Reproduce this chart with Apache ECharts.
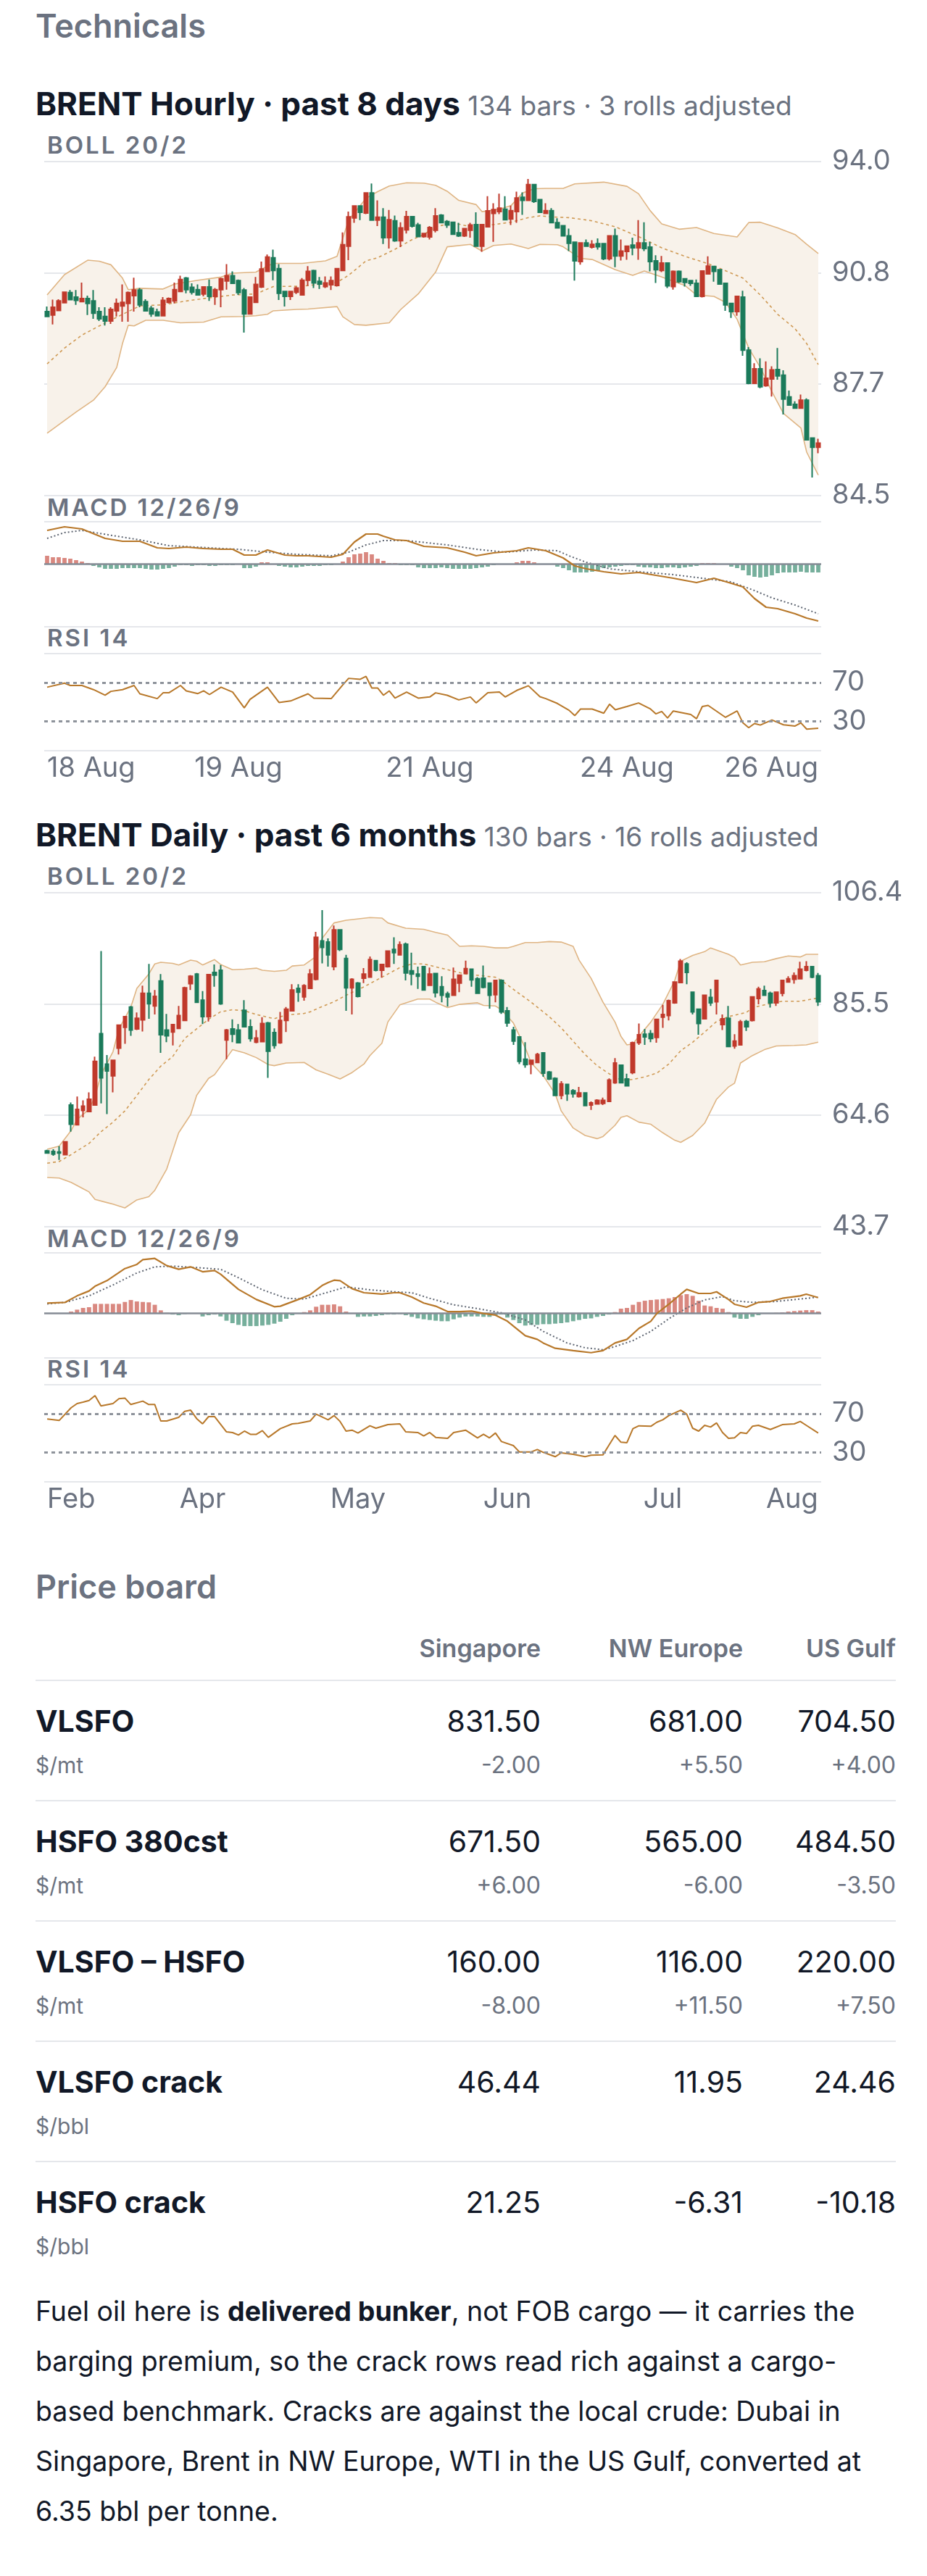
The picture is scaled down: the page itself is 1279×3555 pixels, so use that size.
<!DOCTYPE html>
<html>
<head>
<meta charset="utf-8">
<script src="https://cdn.jsdelivr.net/npm/echarts@6/dist/echarts.min.js"></script>
<style>
  body { margin: 0; background: #fff; font-family: Inter, "Noto Sans", sans-serif; color: #111827; }
  .abs { position: absolute; white-space: nowrap; }
  .h2 { left: 49px; font-size: 45px; font-weight: 600; color: #6b7280; line-height: 60px; }
  .ttl { left: 49px; font-size: 44px; font-weight: 700; line-height: 60px; color: #111827; }
  .ttl span { font-size: 37px; font-weight: 400; color: #6b7280; }
  .ind { left: 65px; font-size: 33px; font-weight: 600; color: #6b7280; letter-spacing: 3px; line-height: 40px; }
  .chart { position: absolute; left: 0; width: 1279px; height: 920px; }
  .rule { position: absolute; left: 49px; width: 1187px; height: 2px; background: #e5e7eb; }
  .colh { font-size: 34px; font-weight: 600; color: #6b7280; line-height: 50px; }
  .rname { left: 49px; font-size: 41px; font-weight: 700; line-height: 50px; }
  .rval { font-size: 41px; font-weight: 400; line-height: 50px; text-align: right; }
  .runit { left: 49px; font-size: 30px; color: #6b7280; line-height: 40px; }
  .rchg { font-size: 32px; color: #6b7280; line-height: 40px; text-align: right; }
  .note { left: 49px; font-size: 37.5px; line-height: 69px; color: #111827; }
</style>
</head>
<body>
<div id="page"></div>
<script>
// ---------- hourly: [open, close, low, high] ----------
var hourlyBars = [
  [89.73,89.59,89.58,89.87],[89.63,89.85,89.36,90.07],[89.76,90.03,89.75,90.08],[89.98,90.28,89.97,90.28],
  [90.27,90.07,90.06,90.34],[90.14,90.05,89.92,90.34],[90.01,90.10,90.01,90.55],[90.10,89.96,89.63,90.18],
  [90.03,89.68,89.52,90.34],[89.73,89.52,89.46,89.85],[89.59,89.46,89.33,89.85],[89.46,89.79,89.38,89.85],
  [89.75,89.96,89.59,90.10],[89.89,89.99,89.44,90.50],[89.96,90.27,89.44,90.30],[90.18,90.34,89.73,90.69],
  [90.34,89.92,89.85,90.40],[90.01,89.75,89.73,90.08],[89.82,89.66,89.58,89.89],[89.72,89.61,89.59,89.81],
  [89.61,90.05,89.61,90.14],[89.99,90.10,89.96,90.13],[90.03,90.35,89.96,90.55],[90.30,90.64,90.28,90.75],
  [90.68,90.35,90.25,90.71],[90.42,90.28,90.21,90.53],[90.35,90.20,90.18,90.50],[90.23,90.43,90.16,90.43],
  [90.43,90.16,90.03,90.64],[90.16,90.35,89.92,90.40],[90.35,90.66,89.85,90.69],[90.60,90.75,90.35,91.08],
  [90.75,90.53,90.51,90.87],[90.61,90.27,90.20,90.64],[90.34,89.66,89.13,90.40],[89.66,90.14,89.65,90.16],
  [89.99,90.50,89.99,90.71],[90.43,90.94,90.40,91.15],[90.87,91.28,90.87,91.35],[91.26,90.90,90.62,91.49],
  [90.95,90.25,90.06,91.08],[90.30,90.16,89.87,90.30],[90.16,90.30,90.06,90.30],[90.28,90.40,90.23,90.44],
  [90.20,90.62,90.20,90.68],[90.62,90.87,90.46,91.02],[90.89,90.54,90.40,90.92],[90.59,90.51,90.37,90.71],
  [90.44,90.54,90.40,90.73],[90.49,90.61,90.34,90.73],[90.47,90.95,90.44,90.95],[90.90,91.63,90.90,91.98],
  [91.59,92.42,91.19,92.57],[92.39,92.73,92.25,92.75],[92.73,92.55,92.33,92.73],[92.53,93.10,92.50,93.10],
  [93.10,92.33,92.33,93.37],[92.33,92.41,92.16,92.89],[92.41,91.83,91.65,92.67],[91.83,92.34,91.52,92.62],
  [92.31,91.74,91.71,92.46],[91.74,92.11,91.56,92.27],[92.05,92.43,91.95,92.59],[92.43,92.16,92.12,92.43],
  [92.19,91.86,91.85,92.25],[91.86,91.95,91.83,91.95],[91.85,92.12,91.78,92.16],[92.04,92.45,91.98,92.67],
  [92.47,92.26,92.25,92.50],[92.29,92.19,92.11,92.33],[92.27,91.93,91.92,92.27],[91.97,91.88,91.85,92.25],
  [91.88,92.09,91.85,92.11],[92.04,92.19,91.83,92.25],[92.20,91.59,91.57,92.55],[91.59,92.20,91.43,92.20],
  [92.14,92.59,92.14,93.01],[92.52,92.63,91.71,92.81],[92.57,92.67,92.50,93.08],[92.64,92.34,92.33,93.01],
  [92.36,92.60,92.19,92.74],[92.57,92.96,92.25,93.14],[92.98,92.89,92.48,93.12],[92.89,93.34,92.88,93.50],
  [93.34,92.86,92.82,93.34],[92.91,92.55,92.53,92.91],[92.52,92.60,92.50,92.81],[92.60,92.26,92.25,92.67],
  [92.26,92.11,92.09,92.38],[92.17,91.88,91.86,92.17],[91.88,91.67,91.45,92.09],[91.70,91.17,90.61,91.70],
  [91.15,91.68,91.06,91.68],[91.68,91.59,91.57,91.78],[91.56,91.64,91.52,91.76],[91.66,91.57,91.49,91.81],
  [91.66,91.23,91.19,91.66],[91.23,91.88,91.18,91.88],[91.88,91.31,90.99,92.09],[91.31,91.45,91.18,91.78],
  [91.44,91.59,91.20,91.59],[91.62,91.54,91.33,91.83],[91.54,91.68,91.20,92.33],[91.68,91.52,91.45,92.27],
  [91.56,91.15,90.87,91.71],[91.17,90.92,90.54,91.33],[90.90,91.11,90.85,91.31],[91.11,90.46,90.40,91.11],
  [90.44,90.87,90.35,90.90],[90.87,90.58,90.54,90.90],[90.66,90.56,90.44,90.68],[90.61,90.53,90.46,90.62],
  [90.53,90.16,90.16,90.64],[90.16,90.88,90.13,90.88],[90.80,91.02,90.80,91.30],[91.01,90.87,90.58,91.01],
  [90.92,90.51,90.49,90.92],[90.53,89.92,89.75,90.53],[89.96,89.73,89.55,89.96],[89.73,90.16,89.61,90.18],
  [90.14,88.63,88.47,90.32],[88.63,87.69,87.66,88.72],[87.69,88.10,87.69,88.26],[88.10,87.59,87.55,88.40],
  [87.62,87.83,87.59,88.31],[87.81,88.07,87.31,88.17],[88.08,87.90,87.79,88.69],[87.92,87.24,86.80,88.06],
  [87.30,87.07,87.05,87.48],[87.09,86.98,86.97,87.18],[86.98,87.21,86.98,87.37],[87.21,86.08,86.08,87.26],
  [86.13,85.87,85.01,86.13],[85.87,85.99,85.70,86.11]
];
// Bollinger band: [bar index, value]
var hourlyUpper = [[0,90.20],[3,90.78],[7,91.19],[9,91.16],[11,91.06],[13,90.68],[14,90.35],[16,90.39],[20,90.37],[22,90.51],[26,90.62],[30,90.71],[32,90.82],[36,90.85],[38,91.02],[39,91.10],[44,91.10],[48,91.17],[50,91.30],[52,92.33],[55,92.95],[57,93.14],[59,93.30],[62,93.39],[65,93.38],[67,93.32],[69,93.15],[71,92.89],[74,92.77],[75,92.57],[78,92.64],[80,92.74],[82,93.10],[84,93.22],[86,93.23],[89,93.23],[91,93.36],[96,93.41],[100,93.29],[102,93.08],[104,92.60],[106,92.22],[109,92.07],[112,92.12],[115,91.95],[119,91.85],[121,92.26],[123,92.27],[126,92.11],[129,91.92],[131,91.64],[133,91.38]];
var hourlyMid = [[0,88.24],[3,88.69],[6,89.06],[9,89.32],[13,89.65],[16,89.89],[20,89.92],[24,90.03],[28,90.12],[32,90.20],[36,90.23],[39,90.44],[44,90.45],[50,90.56],[52,90.76],[55,91.17],[57,91.26],[60,91.50],[63,91.78],[65,91.92],[67,92.14],[70,92.25],[74,92.11],[76,92.18],[80,92.27],[83,92.40],[85,92.45],[87,92.42],[90,92.40],[94,92.31],[98,92.14],[102,91.86],[106,91.54],[110,91.30],[114,91.09],[118,90.82],[120,90.68],[123,90.20],[126,89.65],[129,89.24],[131,88.82],[133,88.22]];
var hourlyLower = [[0,86.27],[5,86.87],[8,87.21],[10,87.59],[12,88.14],[13,88.82],[14,89.34],[15,89.32],[17,89.48],[20,89.48],[23,89.41],[27,89.43],[30,89.58],[34,89.59],[36,89.61],[38,89.65],[39,89.75],[43,89.79],[45,89.80],[50,89.87],[51,89.58],[53,89.36],[55,89.34],[59,89.41],[61,89.79],[64,90.23],[67,90.85],[69,91.57],[73,91.64],[75,91.45],[77,91.61],[80,91.65],[83,91.52],[85,91.64],[88,91.63],[89,91.57],[92,91.24],[94,91.21],[98,90.92],[101,90.76],[103,90.88],[106,90.71],[110,90.47],[112,90.20],[115,90.16],[117,89.99],[119,89.51],[121,88.69],[123,88.14],[125,87.45],[127,86.83],[130,86.42],[131,85.73],[133,85.08]];
var hourlyMacd = [[0,0.46],[3,0.51],[6,0.48],[10,0.35],[13,0.31],[16,0.31],[19,0.22],[21,0.21],[24,0.23],[27,0.21],[30,0.20],[32,0.20],[34,0.12],[36,0.12],[38,0.19],[41,0.12],[43,0.11],[45,0.11],[49,0.09],[51,0.13],[53,0.30],[55,0.41],[57,0.41],[58,0.38],[60,0.33],[62,0.32],[65,0.24],[69,0.22],[72,0.16],[74,0.11],[77,0.15],[81,0.18],[83,0.22],[86,0.18],[89,0.08],[91,-0.03],[93,-0.07],[96,-0.11],[99,-0.14],[102,-0.12],[105,-0.16],[108,-0.20],[112,-0.26],[115,-0.20],[118,-0.27],[120,-0.32],[122,-0.48],[124,-0.60],[126,-0.62],[129,-0.69],[131,-0.75],[133,-0.79]];
var hourlySignal = [[0,0.35],[3,0.43],[6,0.46],[12,0.38],[16,0.33],[21,0.25],[28,0.22],[33,0.20],[38,0.16],[43,0.13],[49,0.11],[52,0.16],[55,0.26],[58,0.32],[62,0.32],[69,0.26],[74,0.20],[79,0.16],[84,0.19],[88,0.18],[90,0.11],[93,0.02],[97,-0.07],[102,-0.11],[108,-0.15],[113,-0.20],[118,-0.25],[122,-0.37],[125,-0.47],[129,-0.57],[133,-0.69]];
var hourlyHist = [
  0.11,0.09,0.09,0.08,0.07,0.05,0.03,0.01,
  -0.03,-0.05,-0.07,-0.07,-0.07,-0.06,
  -0.06,-0.06,-0.06,-0.07,-0.08,-0.08,-0.07,-0.06,-0.04,
  -0.02,-0.02,-0.03,-0.02,-0.02,-0.03,-0.03,-0.02,-0.02,-0.02,-0.01,
  -0.06,-0.06,-0.04, 0.02,0.02, 0.00,
  -0.03,-0.04,-0.05,-0.05,-0.04,-0.03,-0.03,-0.03,-0.02,-0.02, 0.00,
  0.03,0.09,0.13,0.14,0.16,0.13,0.07,0.04, 0.01,0.01, -0.02,-0.02,-0.02,
  -0.05,-0.06,-0.06,-0.06,-0.05,-0.06,-0.07,-0.07,-0.07,-0.07,-0.06,-0.05,-0.04,
  -0.02,-0.01,-0.01,0.00, 0.02,0.04,0.04,0.02, -0.01,-0.01,-0.01,
  -0.04,-0.06,-0.09,-0.12,-0.12,-0.12,
  -0.11,-0.09,-0.06,-0.05,-0.04,-0.03,-0.02,-0.02,
  -0.04,-0.05,-0.05,-0.06,-0.06,-0.05,-0.05,-0.06,-0.05,-0.04,-0.03,
  0.01,0.01,0.01, 0.00,0.00,
  -0.04,-0.06,-0.09,-0.16,-0.18, -0.19,-0.18,-0.16,-0.13,-0.12,
  -0.12,-0.12,-0.11,-0.12,-0.12,-0.12
];
var hourlyRsi = [[0,65.2],[3,69.4],[4,67],[6,67],[8,62.7],[10,56.9],[11,60.9],[13,62.7],[15,67],[16,58.4],[19,53.4],[20,59.4],[21,59.4],[23,67],[24,61.4],[26,58.6],[27,61.4],[28,57.6],[30,65.2],[32,60.2],[34,43.8],[35,52.6],[38,65.2],[40,49.4],[42,51],[45,58.4],[46,53.9],[49,53.4],[51,67.7],[52,74.4],[54,73.4],[55,76.4],[56,64.4],[57,64.4],[58,56.9],[59,61.4],[60,53.9],[62,60.2],[64,53.9],[66,55.1],[67,59.4],[69,56.9],[71,52.1],[73,55.1],[74,48.9],[76,59.4],[78,60.2],[79,55.1],[81,61.9],[83,66.7],[85,55.4],[86,53.4],[88,48.4],[90,41.4],[91,35.8],[92,42.6],[94,42.6],[96,38.3],[97,47.6],[98,41.9],[100,45.2],[102,48.9],[104,42.9],[105,37.6],[106,40.1],[107,33.3],[108,40.6],[111,37],[112,32.6],[113,45.2],[114,46.4],[117,34],[119,40.6],[120,28.3],[121,23.3],[122,27.6],[123,26],[125,31.3],[127,26.3],[129,25],[130,28.3],[131,21.8],[133,22.8]];
var hourlyPriceTicks = [84.5, 87.6667, 90.8333, 94.0];
var hourlyMacdRange = [-0.87, 0.58];
var hourlyTickIdx = [0, 33, 66, 100, 133];
var hourlyTickText = ['18 Aug', '19 Aug', '21 Aug', '24 Aug', '26 Aug'];

// ---------- daily: [open, close, low, high] ----------
var dailyBars = [
  [57.9,57.5,57.4,58.1],[57.8,57.3,57.0,58.2],[57.7,57.5,56.2,58.8],[57.2,59.6,57.2,59.6],[66.5,62.9,61.5,67.0],
  [62.8,65.7,62.7,68.1],[65.5,66.3,64.2,67.4],[65.3,67.6,65.2,68.9],[66.5,74.7,66.5,75.6],[79.9,71.6,66.8,95.4],
  [74.2,72.9,64.8,75.9],[72.0,74.9,68.9,74.9],[77.2,81.5,76.0,81.5],[81.1,83.1,78.0,83.1],[84.9,80.6,79.5,85.1],
  [80.8,82.8,80.6,83.9],[82.5,87.5,80.3,88.9],[87.5,85.5,82.7,93.0],[85.1,86.9,83.5,88.1],[89.8,79.7,76.3,91.1],
  [80.6,79.5,78.3,83.6],[80.2,81.6,77.7,81.6],[80.9,83.3,80.8,85.1],[82.4,88.5,82.4,88.7],[89.3,90.7,88.1,90.9],
  [91.1,85.8,85.8,91.3],[86.2,83.1,81.7,87.9],[83.1,91.0,82.2,91.1],[91.4,90.9,88.7,92.9],[91.8,85.5,85.3,92.8],
  [78.7,80.6,75.1,80.8],[80.8,79.8,78.3,82.6],[80.6,78.2,78.1,81.7],[84.3,81.2,81.2,86.2],[81.2,79.0,78.4,82.6],
  [78.3,79.1,78.1,80.6],[78.4,81.8,78.3,83.0],[81.9,76.6,71.6,82.1],[80.1,77.7,77.1,80.9],[78.2,82.4,78.0,84.0],
  [82.4,84.5,80.2,84.9],[84.2,88.1,84.2,89.2],[88.4,87.7,85.9,89.2],[86.8,88.9,86.1,89.2],[88.4,91.1,88.3,92.0],
  [90.1,98.0,89.9,99.0],[97.3,96.1,93.1,103.1],[97.1,94.7,92.5,97.8],[92.5,99.4,91.8,100.2],[99.4,95.7,95.4,99.5],
  [94.0,88.5,84.2,94.7],[88.5,90.1,83.5,90.3],[89.4,86.9,86.7,89.6],[90.3,91.1,89.4,92.2],[90.5,93.8,90.5,94.4],
  [93.6,91.8,91.6,93.7],[91.8,92.9,90.4,93.0],[92.5,95.4,92.3,95.4],[95.7,95.1,93.0,98.0],[94.7,96.6,94.7,97.2],
  [96.7,91.3,89.9,97.0],[91.7,91.1,89.0,95.1],[91.1,90.7,88.3,92.5],[92.5,88.1,88.0,92.6],[89.0,91.1,88.9,92.3],
  [91.2,87.6,86.7,91.2],[88.7,87.1,85.8,90.7],[87.4,86.8,85.0,87.8],[87.1,90.1,87.1,92.3],[89.4,90.9,87.7,91.0],
  [91.2,92.1,91.2,93.6],[92.0,90.0,88.7,92.1],[90.2,87.5,87.5,90.5],[90.3,88.6,88.4,92.7],[89.4,87.1,84.6,89.4],
  [87.2,89.9,85.8,89.9],[89.9,84.0,83.6,90.1],[84.2,81.9,81.2,84.9],[80.6,78.5,77.8,81.2],[79.3,74.7,74.2,79.3],
  [75.1,74.1,73.5,78.3],[74.2,74.9,72.3,74.9],[74.5,76.0,74.4,76.3],[76.3,72.5,71.8,76.3],[72.7,71.4,71.2,72.9],
  [71.5,68.3,68.3,71.7],[68.3,70.5,67.6,71.0],[70.4,68.6,67.3,70.4],[69.2,68.6,67.9,69.5],[68.1,68.8,67.9,69.9],
  [68.8,66.4,66.3,68.8],[66.5,66.9,65.6,67.2],[66.7,67.4,66.6,67.6],[66.8,67.4,66.5,67.9],[67.2,71.2,67.2,71.5],
  [70.7,74.4,70.5,75.3],[74.0,70.7,70.6,74.0],[71.4,70.1,70.0,72.4],[72.6,78.2,72.3,78.4],[78.2,79.7,77.8,81.8],
  [79.8,79.3,77.8,80.8],[79.9,79.0,78.3,80.6],[79.2,82.6,78.2,82.6],[83.0,83.5,81.0,85.3],[83.3,86.1,82.4,86.3],
  [85.7,89.6,85.5,89.6],[89.5,93.5,89.4,93.9],[93.0,91.4,89.2,93.3],[87.7,84.0,83.5,87.7],[84.5,81.8,79.7,84.5],
  [82.7,87.1,82.6,87.2],[86.7,85.7,85.1,88.3],[85.9,89.9,83.5,89.9],[81.6,82.7,80.6,83.5],[82.8,77.5,77.5,85.1],
  [77.6,78.5,77.1,79.8],[77.8,82.1,77.8,82.5],[82.2,81.2,80.4,82.5],[82.4,86.8,82.2,86.9],[86.5,88.3,85.4,88.7],
  [88.0,87.1,87.0,88.9],[87.5,85.7,84.8,87.8],[85.7,87.7,85.1,87.7],[87.5,89.9,86.9,89.9],[89.6,90.2,89.5,90.7],
  [90.1,90.8,89.3,91.4],[90.2,92.0,90.1,93.4],[91.8,92.5,91.6,93.5],[92.5,90.5,90.3,92.5],[90.8,85.9,85.1,91.3]
];
var dailyUpper = [[0,58.2],[2,58.8],[4,61.7],[5,63.8],[7,65.7],[8,68.1],[9,72.2],[11,76.5],[12,80.8],[14,84.9],[15,88.4],[17,91.1],[18,93.0],[19,93.3],[21,93.1],[22,92.8],[24,93.7],[25,93.5],[26,92.8],[28,93.8],[29,92.9],[31,91.9],[33,92.0],[35,92.2],[36,91.8],[38,91.6],[40,91.8],[41,92.6],[43,92.8],[45,94.4],[46,97.8],[48,100.7],[50,101.2],[54,101.7],[56,101.6],[57,100.7],[60,99.7],[63,99.5],[65,98.9],[67,98.4],[69,96.3],[71,96.4],[73,96.3],[75,96.0],[77,96.0],[78,96.3],[80,97.0],[82,97.0],[84,97.2],[86,97.1],[88,96.3],[89,93.7],[91,90.3],[93,85.8],[95,82.1],[96,79.4],[97,77.8],[98,78.0],[99,79.4],[101,82.1],[103,85.4],[105,89.9],[106,93.5],[108,94.6],[110,95.3],[111,96.0],[114,94.8],[115,94.2],[116,92.8],[118,93.3],[120,93.4],[122,94.0],[124,94.5],[126,94.3],[127,94.8],[129,94.8]];
var dailyMid = [[0,55.6],[2,55.9],[4,57.2],[7,59.3],[9,61.5],[11,63.3],[13,65.4],[15,68.3],[17,71.3],[19,73.8],[21,75.6],[23,79.0],[25,80.8],[27,82.6],[29,84.0],[31,84.4],[33,84.2],[35,83.5],[38,82.7],[39,83.1],[41,83.5],[43,83.7],[44,84.0],[46,85.0],[48,85.9],[50,87.1],[53,88.7],[56,90.5],[59,92.3],[61,93.0],[63,93.0],[67,91.9],[70,91.1],[75,90.5],[76,89.9],[79,87.4],[81,85.8],[84,83.1],[86,81.0],[88,78.5],[90,76.0],[92,73.9],[94,72.4],[96,71.2],[98,71.3],[100,71.8],[102,72.5],[104,74.2],[106,76.7],[108,78.3],[110,80.2],[112,82.2],[114,83.1],[117,83.9],[118,84.8],[120,85.3],[123,86.0],[126,86.0],[129,86.6]];
var dailyLower = [[0,52.9],[2,52.8],[4,52.0],[6,50.8],[7,50.2],[8,48.8],[10,48.2],[11,47.9],[13,47.2],[15,48.7],[17,49.3],[18,50.5],[20,54.5],[22,61.3],[24,64.7],[25,68.3],[27,71.5],[28,72.2],[30,75.3],[31,76.9],[33,76.3],[35,75.4],[37,74.1],[38,73.9],[40,74.4],[43,74.5],[45,73.1],[47,72.3],[49,71.4],[51,72.6],[53,74.2],[54,75.8],[56,78.1],[57,82.1],[59,85.3],[62,86.4],[64,86.4],[65,85.8],[67,84.8],[69,85.4],[72,85.7],[73,85.2],[75,85.1],[76,84.4],[78,81.9],[80,77.2],[81,74.4],[83,72.0],[85,68.6],[86,65.4],[88,62.2],[90,60.8],[92,60.2],[93,60.6],[95,62.7],[96,64.2],[97,64.5],[99,63.3],[101,62.9],[103,61.3],[105,59.9],[106,59.5],[108,60.8],[110,63.1],[112,67.6],[114,69.9],[115,70.6],[116,74.4],[118,75.8],[120,76.9],[122,77.6],[125,77.7],[127,77.8],[129,78.3]];
var dailyMacd = [[0,1.03],[3,1.10],[5,1.74],[7,2.22],[8,2.69],[10,3.24],[13,4.43],[15,4.84],[16,5.31],[18,5.43],[20,4.72],[22,4.36],[24,4.60],[26,4.12],[28,4.24],[29,3.88],[32,2.38],[35,1.38],[38,0.67],[39,0.72],[42,1.38],[44,1.86],[46,2.76],[47,3.05],[48,3.29],[49,3.24],[51,2.45],[53,2.05],[56,1.91],[58,2.05],[59,2.05],[61,1.62],[63,1.03],[65,0.72],[67,0.19],[69,0.19],[71,0.24],[73,0.00],[75,-0.16],[77,-0.76],[80,-2.19],[82,-2.55],[83,-2.91],[85,-3.43],[88,-3.66],[91,-3.86],[93,-3.66],[95,-2.91],[97,-2.55],[99,-1.47],[101,-0.76],[102,0.00],[104,0.91],[106,1.91],[107,2.38],[109,1.98],[111,1.98],[112,2.14],[114,1.38],[115,0.91],[117,0.62],[119,1.10],[121,1.19],[123,1.50],[126,1.74],[127,1.91],[129,1.57]];
var dailySignal = [[0,0.95],[3,1.10],[7,1.74],[11,2.81],[15,4.00],[18,4.60],[21,4.67],[25,4.53],[29,4.36],[32,3.53],[36,2.34],[40,1.50],[43,1.43],[47,2.10],[50,2.62],[54,2.34],[58,2.14],[61,2.05],[64,1.50],[68,0.86],[72,0.48],[76,0.07],[80,-0.64],[83,-1.76],[87,-2.91],[90,-3.38],[93,-3.57],[95,-3.26],[98,-2.67],[101,-1.76],[104,-0.52],[107,0.55],[110,1.34],[113,1.67],[115,1.26],[118,1.10],[122,1.19],[126,1.43],[129,1.62]];
var dailyHist = [
  0.05,0.03,0.02,0.05, 0.19,0.38,0.55,0.62,0.95, 0.95,0.95,0.95,0.95,
  1.14,1.33,1.19,1.14,1.10,0.86,0.31,0.07, -0.10,-0.17,-0.05, 0.05,0.00,
  -0.29,-0.17,-0.10,-0.29,
  -0.71,-0.95,-1.12,-1.24,-1.24,-1.24,-1.19,-1.12,-1.00,-0.81,-0.52,-0.17,
  0.00,0.14,0.31,0.67,0.86,0.86,0.90,0.71,0.19,0.00,
  -0.33,-0.29,-0.29,-0.24,-0.17,-0.10,-0.10,-0.05,-0.17,
  -0.33,-0.48,-0.57,-0.64,-0.71,-0.76,-0.76,-0.57,-0.40,-0.29,
  -0.29,-0.29,-0.33,-0.33,-0.17,-0.10,-0.40,-0.64,-0.95,-1.19,
  -1.12,-1.12,-1.05,-1.05,-1.00,-0.95,-0.88,-0.76,-0.64,-0.52,-0.48,-0.33,-0.24,-0.10,
  0.14,0.48,0.55,0.86,1.14,1.26,1.33,1.38,1.43,1.50,1.62,1.81,1.91,1.74,
  1.26,0.79,0.71,0.55,0.48,0.14,
  -0.40,-0.52,-0.52,-0.33,-0.17,0.00,
  0.05,0.07,0.10,0.19,0.24,0.29,0.33,0.33,0.19
];
var dailyRsi = [[0,64.5],[2,63],[4,76.2],[5,80.5],[6,82],[7,83.7],[8,88.7],[9,78],[11,80.5],[12,85.5],[13,86.2],[14,79.5],[16,83],[17,79.5],[18,79.5],[19,62.5],[20,62.5],[22,66.2],[23,72.5],[24,73.7],[25,65],[26,59.5],[27,67],[28,67],[30,51.2],[31,50.5],[32,48],[33,52],[34,48.7],[35,48.7],[36,52.5],[37,45.5],[39,54.5],[41,59.5],[42,60],[44,62.5],[45,69.5],[47,63.7],[48,68],[49,62],[50,52],[51,53],[52,50],[54,57.5],[55,55],[57,58.7],[59,59.5],[60,51.2],[62,50.5],[63,47],[64,50.5],[65,45.5],[67,44.5],[68,50.5],[70,53],[72,45],[73,48.7],[74,45],[75,50],[76,41.2],[78,37],[79,30.5],[81,30.5],[82,33],[83,30],[85,25.5],[86,29.5],[88,28],[90,25.5],[91,27],[93,27.5],[94,37.5],[95,47.5],[96,40.5],[97,40],[98,54.5],[99,57.5],[101,57],[102,61.2],[103,63.7],[104,68],[106,73.7],[107,69.5],[108,55],[109,52],[110,58],[111,56.2],[112,60.5],[113,50.5],[114,44.5],[115,45],[116,50.5],[117,49.5],[118,57],[119,58],[121,53.7],[123,58.7],[125,59.5],[126,62],[127,58],[129,50]];
var dailyPriceTicks = [43.7, 64.6, 85.5, 106.4];
var dailyMacdRange = [-4.38, 5.98];
var dailyTickIdx = [0, 26, 52, 77, 103, 129];
var dailyTickText = ['Feb', 'Apr', 'May', 'Jun', 'Jul', 'Aug'];

// ---------- price board ----------
var boardCols = ['Singapore', 'NW Europe', 'US Gulf'];
var boardRows = ['VLSFO', 'HSFO 380cst', 'VLSFO \u2013 HSFO', 'VLSFO crack', 'HSFO crack'];
var boardUnits = ['$/mt', '$/mt', '$/mt', '$/bbl', '$/bbl'];
var boardValues = [[831.50, 681.00, 704.50], [671.50, 565.00, 484.50], [160.00, 116.00, 220.00], [46.44, 11.95, 24.46], [21.25, -6.31, -10.18]];
var boardChanges = [[-2.00, 5.50, 4.00], [6.00, -6.00, -3.50], [-8.00, 11.50, 7.50], null, null];

var UP = '#c0392b', DOWN = '#1b7a5a', GRAY = '#6b7280', GRID = '#e5e7eb';
var BAND_FILL = '#f8f2ea', BAND_LINE = '#dfb584', MID_LINE = '#cf9a55', IND = '#b8782a';
var FONT = 'Inter, "Noto Sans", sans-serif';

var page = document.getElementById('page');
function add(cls, top, html, style) {
  var d = document.createElement('div');
  d.className = 'abs ' + cls;
  d.style.top = top + 'px';
  if (style) d.style.cssText += style;
  d.innerHTML = html;
  page.appendChild(d);
  return d;
}
function rule(y) {
  var d = document.createElement('div');
  d.className = 'rule';
  d.style.top = (y - 1) + 'px';
  page.appendChild(d);
}

function buildChart(top, title, meta, c) {
  add('ttl', top - 57, title + ' <span>' + meta + '</span>');
  add('ind', top + 10, 'BOLL 20/2');
  add('ind', top + 510, 'MACD 12/26/9');
  add('ind', top + 690, 'RSI 14');
  var el = document.createElement('div');
  el.className = 'chart';
  el.style.top = top + 'px';
  page.appendChild(el);

  var n = c.bars.length;
  var labelAt = {};
  c.tickIdx.forEach(function (ix, k) { labelAt[ix] = c.tickText[k]; });
  var cats = c.bars.map(function (b, i) { return 'b' + i; });
  var xData = cats.map(function (v, i) {
    if (i === 0) return { value: v, textStyle: { align: 'left' } };
    if (i === n - 1) return { value: v, textStyle: { align: 'right' } };
    return v;
  });
  var grids = [
    { left: 61, right: 146, top: 52.7, height: 461 },
    { left: 61, right: 146, top: 550, height: 145 },
    { left: 61, right: 146, top: 732, height: 133.3 }
  ];
  var xAxes = grids.map(function (g, gi) {
    return {
      type: 'category', gridIndex: gi, data: xData, boundaryGap: true,
      axisLine: { show: false }, axisTick: { show: false }, splitLine: { show: false },
      axisLabel: gi === 2 ? {
        show: true, interval: 0, margin: 6, color: GRAY, fontSize: 38, fontFamily: FONT,
        formatter: function (v, idx) { return labelAt[idx] || ''; }
      } : { show: false }
    };
  });
  var split = { show: true, lineStyle: { color: GRID, width: 2 } };
  var pt = c.priceTicks;
  var yAxes = [
    { type: 'value', gridIndex: 0, position: 'right', min: pt[0], max: pt[pt.length - 1],
      axisLine: { show: false }, axisTick: { show: false, customValues: pt }, splitLine: split,
      axisLabel: { customValues: pt, margin: 15, color: GRAY, fontSize: 38, fontFamily: FONT,
        formatter: function (v) { return v.toFixed(1); } } },
    { type: 'value', gridIndex: 1, position: 'right', min: c.macdRange[0], max: c.macdRange[1],
      axisLine: { show: false }, axisTick: { show: false, customValues: c.macdRange }, splitLine: split,
      axisLabel: { show: false } },
    { type: 'value', gridIndex: 2, position: 'right', min: 0, max: 100,
      axisLine: { show: false }, axisTick: { show: false, customValues: [0, 100] }, splitLine: split,
      axisLabel: { customValues: [30, 70], margin: 15, color: GRAY, fontSize: 38, fontFamily: FONT } }
  ];
  function line(data, xi, color, width, type, z) {
    return { type: 'line', xAxisIndex: xi, yAxisIndex: xi, data: data, symbol: 'none', silent: true, z: z || 3,
      lineStyle: { color: color, width: width, type: type || 'solid' } };
  }
  var series = [
    { type: 'custom', xAxisIndex: 0, yAxisIndex: 0, z: 1, silent: true, data: [0],
      renderItem: function (params, api) {
        var pts = c.upper.map(function (p) { return api.coord(p); })
          .concat(c.lower.slice().reverse().map(function (p) { return api.coord(p); }));
        return { type: 'polygon', shape: { points: pts }, style: { fill: BAND_FILL } };
      } },
    line(c.upper, 0, BAND_LINE, 1.6, 'solid', 2),
    line(c.lower, 0, BAND_LINE, 1.6, 'solid', 2),
    line(c.mid, 0, MID_LINE, 1.6, [4, 4], 2),
    { type: 'candlestick', xAxisIndex: 0, yAxisIndex: 0, data: c.bars, barWidth: 5, z: 5,
      itemStyle: { color: UP, color0: DOWN, borderColor: UP, borderColor0: DOWN, borderWidth: 2 } },
    { type: 'bar', xAxisIndex: 1, yAxisIndex: 1, barWidth: '72%', silent: true,
      data: c.hist.map(function (v) {
        return { value: v, itemStyle: { color: v >= 0 ? 'rgba(192,57,43,0.6)' : 'rgba(27,122,90,0.6)' } };
      }),
      markLine: { silent: true, symbol: 'none', label: { show: false },
        lineStyle: { color: '#858b95', width: 2.5, type: 'solid' }, data: [{ yAxis: 0 }] } },
    line(c.signal, 1, '#5f6672', 2, [2, 3], 4),
    line(c.macd, 1, IND, 2.2, 'solid', 5),
    { type: 'line', xAxisIndex: 2, yAxisIndex: 2, data: c.rsi, symbol: 'none', silent: true,
      lineStyle: { color: IND, width: 2 },
      markLine: { silent: true, symbol: 'none', label: { show: false },
        lineStyle: { color: '#8e939b', width: 3, type: [5, 5] }, data: [{ yAxis: 70 }, { yAxis: 30 }] } }
  ];
  var chart = echarts.init(el);
  chart.setOption({
    animation: false,
    grid: grids, xAxis: xAxes, yAxis: yAxes, series: series
  });
}

add('h2', 6, 'Technicals');
buildChart(170, 'BRENT Hourly \u00b7 past 8 days', hourlyBars.length + ' bars \u00b7 3 rolls adjusted', {
  bars: hourlyBars, upper: hourlyUpper, mid: hourlyMid, lower: hourlyLower,
  macd: hourlyMacd, signal: hourlySignal, hist: hourlyHist, rsi: hourlyRsi,
  priceTicks: hourlyPriceTicks, macdRange: hourlyMacdRange, tickIdx: hourlyTickIdx, tickText: hourlyTickText
});
buildChart(1179, 'BRENT Daily \u00b7 past 6 months', dailyBars.length + ' bars \u00b7 16 rolls adjusted', {
  bars: dailyBars, upper: dailyUpper, mid: dailyMid, lower: dailyLower,
  macd: dailyMacd, signal: dailySignal, hist: dailyHist, rsi: dailyRsi,
  priceTicks: dailyPriceTicks, macdRange: dailyMacdRange, tickIdx: dailyTickIdx, tickText: dailyTickText
});

// price board
add('h2', 2160, 'Price board');
var colRight = [533, 254, 43];
boardCols.forEach(function (name, j) { add('colh', 2250, name, 'right:' + colRight[j] + 'px;'); });
rule(2319);
function fmtChange(v) { return (v > 0 ? '+' : '') + v.toFixed(2); }
boardRows.forEach(function (name, k) {
  var t = 2319 + 166 * k;
  add('rname', t + 31, name);
  add('runit', t + 97, boardUnits[k]);
  boardValues[k].forEach(function (v, j) { add('rval', t + 31, v.toFixed(2), 'right:' + colRight[j] + 'px;'); });
  if (boardChanges[k]) {
    boardChanges[k].forEach(function (v, j) { add('rchg', t + 97, fmtChange(v), 'right:' + colRight[j] + 'px;'); });
  }
  if (k < boardRows.length - 1) rule(t + 166);
});

add('note', 3155,
  'Fuel oil here is <b>delivered bunker</b>, not FOB cargo \u2014 it carries the<br>' +
  'barging premium, so the crack rows read rich against a cargo-<br>' +
  'based benchmark. Cracks are against the local crude: Dubai in<br>' +
  'Singapore, Brent in NW Europe, WTI in the US Gulf, converted at<br>' +
  '6.35 bbl per tonne.');
</script>
</body>
</html>
